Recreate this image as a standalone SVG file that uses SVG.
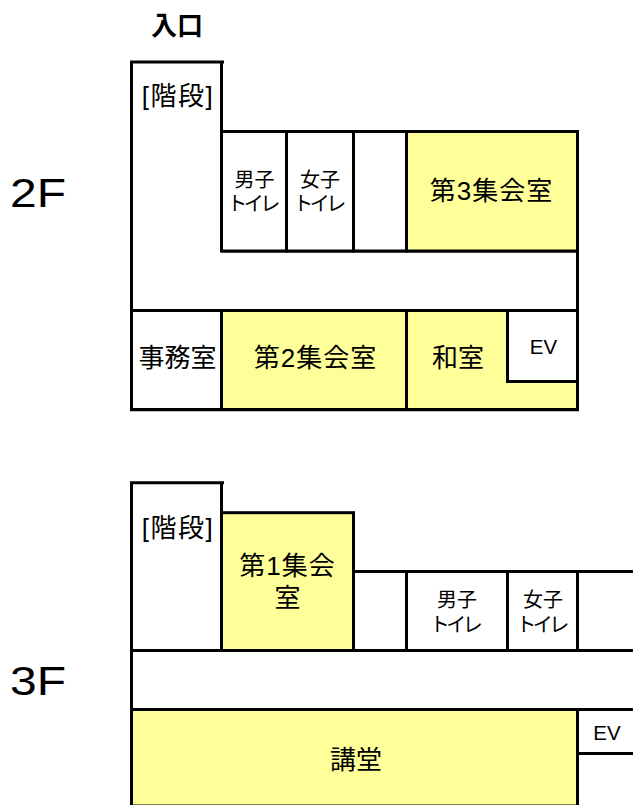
<svg xmlns="http://www.w3.org/2000/svg" width="633" height="805" viewBox="0 0 633 805">
<style>
text{font-family:"Liberation Sans","Noto Sans CJK JP",sans-serif;fill:#000;text-anchor:middle}
.m{font-size:26px}.d{letter-spacing:1px}.b{letter-spacing:1.5px}.s{font-size:20px}.t{letter-spacing:-3.500px}.e{font-size:20.500px}.f{font-size:40px;text-anchor:start}
.w{fill:#fff;stroke:#000;stroke-width:3}.y{fill:#ff9;stroke:#000;stroke-width:3}
.l{fill:none;stroke:#000;stroke-width:3}
</style>
<rect width="633" height="805" fill="#fff"/>
<text id="entrance" x="177" y="35" font-size="26" font-weight="700">入口</text>
<text id="f2" class="f" x="10" y="207" textLength="56" lengthAdjust="spacingAndGlyphs">2F</text>
<text id="f3" class="f" x="10" y="695" textLength="56" lengthAdjust="spacingAndGlyphs">3F</text>
<g id="floor2">
<path class="l" d="M224 62H131.500V409.700H577.500V131.500H221.500V62M221.500 251H577.500M131.500 310.500H577.500"/>
<g id="r2-stairs"><text class="m b" x="178" y="105">[階段]</text></g>
<g id="r2-men"><rect class="w" x="221.500" y="131.500" width="65" height="119.500"/><text class="s"><tspan x="254.500" y="187">男子</tspan><tspan class="t" x="252" y="211">トイレ</tspan></text></g>
<g id="r2-women"><rect class="w" x="286.500" y="131.500" width="67" height="119.500"/><text class="s"><tspan x="320" y="187">女子</tspan><tspan class="t" x="318" y="211">トイレ</tspan></text></g>
<g id="r2-blank"><rect class="w" x="353.500" y="131.500" width="53" height="119.500"/></g>
<g id="r2-room3"><rect class="y" x="406.500" y="131.500" width="171" height="119.500"/><text class="m d" x="491.500" y="200">第3集会室</text></g>
<g id="r2-office"><rect class="w" x="131.500" y="310.500" width="90" height="99"/><text class="m" x="177.500" y="367">事務室</text></g>
<g id="r2-room2"><rect class="y" x="221.500" y="310.500" width="185" height="99"/><text class="m d" x="315.500" y="367">第2集会室</text></g>
<g id="r2-washitsu"><rect class="y" x="406.500" y="310.500" width="171" height="99"/><text class="m" x="458" y="367">和室</text></g>
<g id="r2-ev"><path class="w" d="M507.500 310.500V381.500H577.500V310.500Z"/><text class="e" x="543.500" y="354">EV</text></g>
</g>
<g id="floor3">
<path class="l" d="M224 482.700H131.500V805M221.500 482.700V650.500M131.500 650.500H633M131.500 709.500H633"/>
<g id="r3-stairs"><text class="m b" x="178" y="537">[階段]</text></g>
<g id="r3-room1"><rect class="y" x="221.500" y="512.700" width="132" height="137.800"/><text class="m"><tspan class="d" x="287.500" y="575">第1集会</tspan><tspan x="287.500" y="607">室</tspan></text></g>
<g id="r3-blank"><path class="w" d="M353.500 571.500H406.500V650.500H353.500Z"/></g>
<g id="r3-men"><rect class="w" x="406.500" y="571.500" width="101" height="79"/><text class="s"><tspan x="457" y="607">男子</tspan><tspan class="t" x="454.500" y="632">トイレ</tspan></text></g>
<g id="r3-women"><rect class="w" x="507.500" y="571.500" width="70" height="79"/><text class="s"><tspan x="543" y="607">女子</tspan><tspan class="t" x="541" y="632">トイレ</tspan></text></g>
<g id="r3-blank2"><path class="l" d="M577.500 571.500H633M577.500 571.500V650.500"/></g>
<g id="r3-hall"><path class="y" d="M131.500 709.500H577.500V806H131.500Z"/><text class="m" x="356" y="769">講堂</text></g>
<g id="r3-ev"><path class="l" d="M577.500 753.500H633"/><text class="e" x="607" y="740">EV</text></g>
</g>
</svg>
